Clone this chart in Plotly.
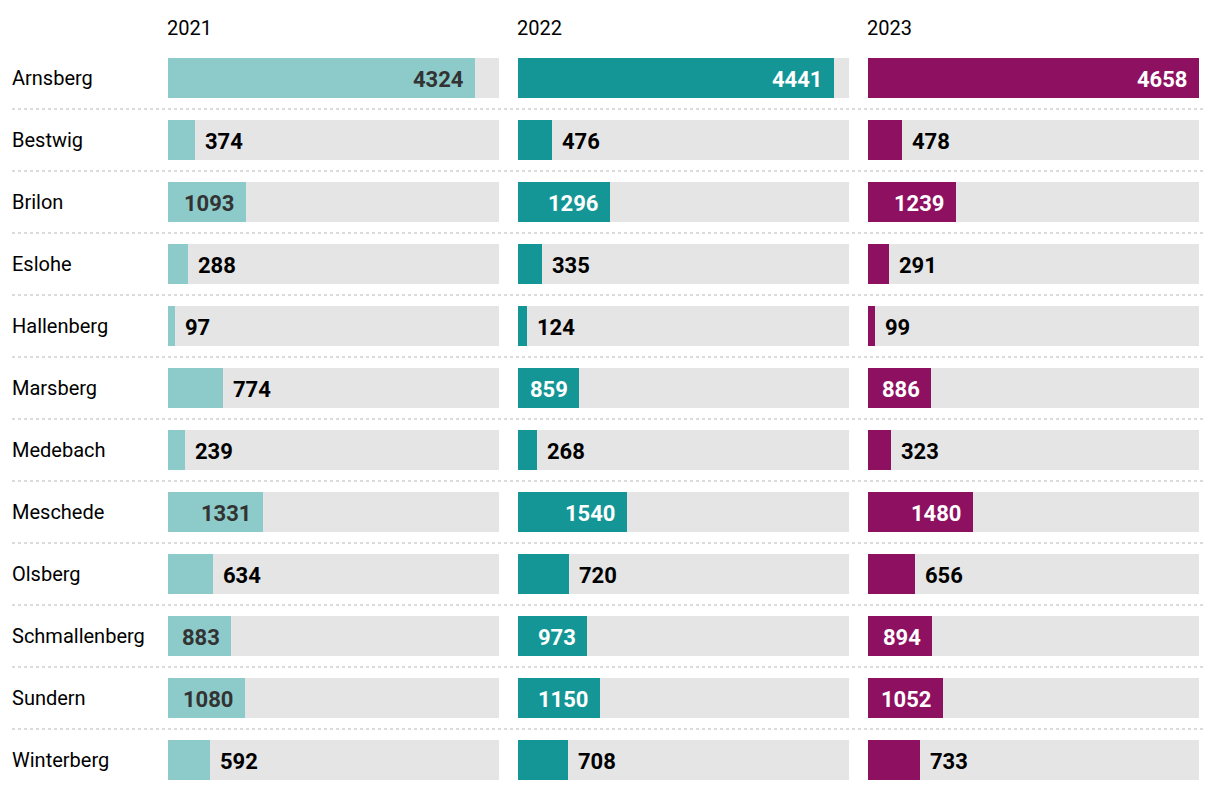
import plotly.graph_objects as go

cities = ["Arnsberg", "Bestwig", "Brilon", "Eslohe", "Hallenberg", "Marsberg",
          "Medebach", "Meschede", "Olsberg", "Schmallenberg", "Sundern", "Winterberg"]
years = ["2021", "2022", "2023"]
v2021 = [4324, 374, 1093, 288, 97, 774, 239, 1331, 634, 883, 1080, 592]
v2022 = [4441, 476, 1296, 335, 124, 859, 268, 1540, 720, 973, 1150, 708]
v2023 = [4658, 478, 1239, 291, 99, 886, 323, 1480, 656, 894, 1052, 733]
series = [v2021, v2022, v2023]
colors = ["#8ccbca", "#149696", "#8e1060"]
inside_text = ["#333333", "#ffffff", "#ffffff"]

W, H = 1220, 792
FONT = "Roboto"
maxv = max(max(s) for s in series)

col_left = [168, 518, 868]
col_w = 331
row0, row_h = 78, 62
n = len(cities)

fig = go.Figure()
annotations = []
shapes = []

for i, (yr, vals) in enumerate(zip(years, series)):
    xa = "x" if i == 0 else f"x{i+1}"
    fig.add_trace(go.Bar(y=cities, x=[maxv] * n, orientation="h", xaxis=xa, yaxis="y",
                         marker=dict(color="#e5e5e5", line=dict(width=0)), width=0.645,
                         hoverinfo="skip", showlegend=False))
    fig.add_trace(go.Bar(y=cities, x=vals, orientation="h", xaxis=xa, yaxis="y",
                         marker=dict(color=colors[i], line=dict(width=0)), width=0.645,
                         name=yr, showlegend=False))
    px_per = col_w / maxv
    for c, v in zip(cities, vals):
        digits = len(str(v))
        need = digits * 12.5 + 20
        inside = v * px_per > need
        annotations.append(dict(
            x=v, y=c, xref=xa, yref="y", text=f"<b>{v}</b>", showarrow=False,
            xanchor="right" if inside else "left", xshift=-9 if inside else 8,
            yshift=-1,
            font=dict(family=FONT, size=22, color=inside_text[i] if inside else "#000000")))
    annotations.append(dict(
        x=(col_left[i] - 3) / W, y=1 - 28 / H, xref="paper", yref="paper", text=yr,
        showarrow=False, xanchor="left", yanchor="middle",
        font=dict(family=FONT, size=20, color="#000000")))

for c in cities:
    annotations.append(dict(
        x=10 / W, y=c, xref="paper", yref="y", text=c, showarrow=False,
        xanchor="left", font=dict(family=FONT, size=20, color="#000000")))

for k in range(n - 1):
    shapes.append(dict(type="line", xref="paper", yref="y", x0=12 / W, x1=1205 / W,
                       y0=k + 0.5, y1=k + 0.5, line=dict(color="#cfcfcf", width=1.5, dash="dot")))

layout_axes = {}
for i in range(3):
    key = "xaxis" if i == 0 else f"xaxis{i+1}"
    layout_axes[key] = dict(domain=[col_left[i] / W, (col_left[i] + col_w) / W], range=[0, maxv],
                            visible=False, showgrid=False, zeroline=False, fixedrange=True)

ytop = -row0 / row_h
ybot = (n - 1) + (H - (row0 + (n - 1) * row_h)) / row_h

fig.update_layout(
    width=W, height=H, margin=dict(l=0, r=0, t=0, b=0),
    paper_bgcolor="white", plot_bgcolor="white", barmode="overlay", bargap=0,
    yaxis=dict(domain=[0, 1], range=[ybot, ytop], visible=False, showgrid=False,
               zeroline=False, categoryorder="array", categoryarray=cities, fixedrange=True),
    annotations=annotations, shapes=shapes,
    font=dict(family=FONT),
    **layout_axes,
)

fig.write_html("out.html")
